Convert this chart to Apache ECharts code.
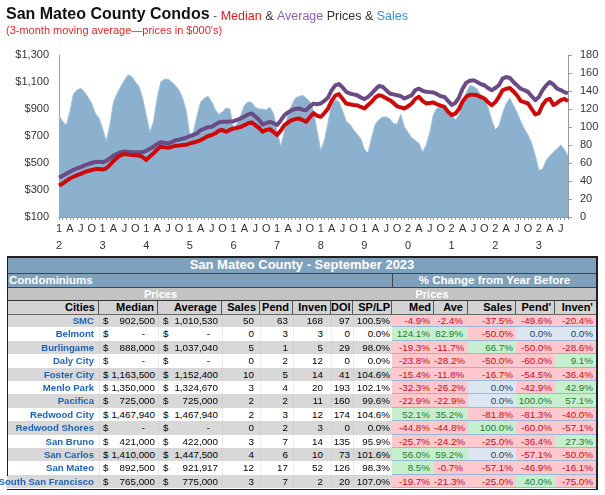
<!DOCTYPE html>
<html>
<head>
<meta charset="utf-8">
<script src="https://cdn.jsdelivr.net/npm/echarts@6/dist/echarts.min.js"></script>
<style>
body{margin:0;background:#fff;width:605px;height:495px;overflow:hidden;position:relative;font-family:"Liberation Sans",Arial,sans-serif}
#chart{position:absolute;left:0;top:0;width:605px;height:256px}
#tbl{position:absolute;left:0;top:0;width:605px;height:495px;pointer-events:none}
.c{position:absolute;box-sizing:border-box;white-space:nowrap}
.ln{position:absolute}
</style>
</head>
<body>
<div id="chart"></div>
<div id="tbl"></div>
<script>
// monthly series, Jan 2012 .. Sep 2023 (3-month moving averages)
var startYear = 2012
var quarterLetters = ['A', 'J', 'O']

var salesData = [113,106,102,117,137,141,143,139,133,126,115,110,
  98,84,102,128,137,145,152,158,156,150,145,132,
  113,94,106,132,150,153,153,150,146,141,132,118,
  90,95,113,128,132,134,128,119,114,117,121,120,
  98,104,113,124,128,127,122,120,120,119,122,115,
  95,78,95,115,124,132,134,135,132,128,118,95,
  74,85,105,125,130,128,118,106,103,97,92,87,
  75,71,88,103,108,111,111,109,104,103,114,100,
  94,88,85,82,72,80,94,114,121,122,120,117,
  113,108,113,125,138,146,145,142,135,130,122,108,
  97,101,115,126,132,124,116,106,98,91,82,68,
  52,53,63,68,72,76,80,75,68]

var medianData = [333,348,368,385,398,410,420,432,441,448,455,456,
  452,460,486,515,540,558,566,562,560,558,555,545,
  523,548,572,600,621,616,613,620,628,630,633,635,
  645,652,660,670,685,700,707,720,740,744,732,745,
  756,760,768,780,795,801,781,760,732,745,751,730,
  707,740,781,800,818,825,830,818,805,840,870,850,
  842,870,904,960,1000,1010,975,941,935,930,928,915,
  904,930,953,985,1002,995,980,965,945,920,912,904,
  920,941,975,990,960,941,945,948,935,925,916,880,
  855,865,900,955,990,1005,1005,1002,990,978,950,928,
  950,990,1039,1050,1056,1030,1000,960,950,941,900,860,
  870,930,965,975,930,945,965,975,958]

var averageData = [392,405,420,435,450,461,470,482,491,500,508,510,
  505,515,535,555,568,580,585,582,579,580,579,580,
  590,605,621,640,653,650,646,655,668,672,680,687,
  700,707,720,744,755,765,768,785,801,805,805,808,
  810,820,830,845,860,867,845,820,786,795,805,795,
  781,815,855,875,891,900,904,895,891,920,940,935,
  941,960,985,1040,1075,1085,1060,1027,1015,1008,1002,985,
  973,990,1015,1045,1070,1065,1040,1015,1008,1002,995,978,
  990,1002,1040,1051,1035,1027,1025,1022,1010,995,990,960,
  930,945,985,1050,1095,1110,1113,1100,1085,1076,1055,1039,
  1055,1076,1125,1137,1130,1100,1075,1050,1040,1027,995,965,
  990,1040,1075,1100,1080,1051,1040,1025,1015]

// table: San Mateo County - September 2023
var cities = ['SMC','Belmont','Burlingame','Daly City','Foster City','Menlo Park','Pacifica',
  'Redwood City','Redwood Shores','San Bruno','San Carlos','San Mateo','South San Francisco']
var medians = [902500,null,888000,null,1163500,1350000,725000,1467940,null,421000,1410000,892500,765000]
var averages = [1010530,null,1037040,null,1152400,1324670,725000,1467940,null,422000,1447500,921917,775000]
var sales = [50,0,5,0,10,3,2,2,0,3,4,12,3]
var pend = [63,3,1,2,5,4,2,3,2,7,6,17,7]
var inven = [168,3,5,12,14,20,11,12,3,14,10,52,2]
var doi = [97,0,29,0,41,193,160,174,0,135,73,126,20]
var spLp = [100.5,0.0,98.0,0.0,104.6,102.1,99.6,104.6,0.0,95.9,101.6,98.3,107.0]
var medChg = [-4.9,124.1,-19.3,-23.8,-15.4,-32.3,-22.9,52.1,-44.8,-25.7,56.0,8.5,-19.7]
var aveChg = [-2.4,82.9,-11.7,-28.2,-11.8,-26.2,-22.9,35.2,-44.8,-24.2,59.2,-0.7,-21.3]
var salesChg = [-37.5,-50.0,66.7,-50.0,-16.7,0.0,0.0,-81.8,100.0,-25.0,0.0,-57.1,-25.0]
var pendChg = [-49.6,0.0,-50.0,-60.0,-54.5,-42.9,100.0,-81.3,-60.0,-36.4,-57.1,-46.9,40.0]
var invenChg = [-20.4,0.0,-28.6,9.1,-36.4,42.9,57.1,-40.0,-57.1,27.3,-50.0,-16.1,-75.0]


function showChart(){
    var months = []
    for(let i=0;i<salesData.length;i++){
        let y = startYear + Math.floor(i/12)
        months.push(y + '-' + (i%12+1))
    }

    var small = {fontSize: 12.5, fontWeight: 'normal', fontFamily: 'Liberation Sans', lineHeight: 14, verticalAlign: 'bottom'}
    option = {
        animation: false,
        title: [
            {
                text: '{a|San Mateo County Condos}{g| - }{r|Median}{k| & }{p|Average}{k| Prices & }{s|Sales}',
                left: 6, top: 5, padding: 0,
                textStyle: {
                    rich: {
                        a: {fontSize: 16, fontWeight: 'bold', color: '#111', fontFamily: 'Liberation Sans', lineHeight: 18, verticalAlign: 'bottom'},
                        g: Object.assign({color: '#555'}, small),
                        r: Object.assign({color: '#d9191c'}, small),
                        k: Object.assign({color: '#333'}, small),
                        p: Object.assign({color: '#8a62b0'}, small),
                        s: Object.assign({color: '#3b8fd8'}, small)
                    }
                }
            },
            {
                text: "(3-month moving average\u2014prices in $000's)",
                left: 6, top: 25, padding: 0,
                textStyle: {fontSize: 11, fontWeight: 'normal', color: '#e2262b', fontFamily: 'Liberation Sans'}
            }
        ],
        grid: {left: 59, right: 37, top: 55, bottom: 39},
        xAxis: {
            type: 'category',
            data: months,
            boundaryGap: false,
            axisLine: {lineStyle: {color: '#9a9a9a'}},
            axisTick: {interval: 0, length: 3, lineStyle: {color: '#9a9a9a'}},
            axisLabel: {
                interval: function(i){ return i % 3 === 0 },
                formatter: function(v, i){
                    let m = i % 12
                    if(m === 0){
                        let yy = String(startYear + Math.floor(i/12)).slice(2)
                        return yy[0] + '\n' + yy[1]
                    }
                    return quarterLetters[m/3 - 1]
                },
                fontSize: 11, color: '#333', lineHeight: 17, margin: 3,
                fontFamily: 'Liberation Sans'
            }
        },
        yAxis: [
            {
                type: 'value', min: 100, max: 1300, interval: 100,
                axisLine: {show: true, lineStyle: {color: '#9a9a9a'}},
                axisTick: {show: false},
                splitLine: {show: false},
                axisLabel: {
                    formatter: function(v){ return (v - 100) % 200 === 0 ? '$' + v.toLocaleString('en-US') : '' },
                    fontSize: 11, color: '#333', margin: 10, fontFamily: 'Liberation Sans'
                }
            },
            {
                type: 'value', min: 0, max: 180, interval: 20, position: 'right',
                axisLine: {show: true, lineStyle: {color: '#9a9a9a'}},
                axisTick: {show: true, length: 4, lineStyle: {color: '#9a9a9a'}},
                splitLine: {show: false},
                axisLabel: {fontSize: 11, color: '#333', margin: 12, fontFamily: 'Liberation Sans'}
            }
        ],
        series: [
            {
                name: 'Sales', type: 'line', yAxisIndex: 1, data: salesData,
                showSymbol: false, z: 1,
                lineStyle: {width: 1, color: '#9fbfd9'},
                areaStyle: {color: '#8cb1ce', opacity: 1}
            },
            {
                name: 'Average', type: 'line', yAxisIndex: 0, data: averageData,
                showSymbol: false, z: 3,
                lineStyle: {width: 4, color: '#6a4b84', join: 'round'}
            },
            {
                name: 'Median', type: 'line', yAxisIndex: 0, data: medianData,
                showSymbol: false, z: 4,
                lineStyle: {width: 4, color: '#cc0a0a', join: 'round'}
            }
        ]
    };

    var myChart = echarts.init(document.getElementById('chart'));
    myChart.setOption(option);
}


// table helpers
var tbl = document.getElementById('tbl')

function cell(x0, x1, y0, h, text, o){
    o = o || {}
    var d = document.createElement('div')
    d.className = 'c'
    d.style.left = x0 + 'px'
    d.style.top = y0 + 'px'
    d.style.width = (x1 - x0) + 'px'
    d.style.height = h + 'px'
    d.style.lineHeight = h + 'px'
    d.style.textAlign = o.align || 'right'
    if(o.align === 'left') d.style.paddingLeft = (o.pad || 0) + 'px'
    else if(o.align !== 'center') d.style.paddingRight = (o.pad || 0) + 'px'
    if(o.bg) d.style.background = o.bg
    d.style.color = o.color || '#000'
    d.style.fontSize = (o.size || 9.8) + 'px'
    if(o.bold) d.style.fontWeight = 'bold'
    d.textContent = text
    tbl.appendChild(d)
    return d
}

function line(x, y, w, h, color){
    var d = document.createElement('div')
    d.className = 'ln'
    d.style.left = x + 'px'; d.style.top = y + 'px'
    d.style.width = w + 'px'; d.style.height = h + 'px'
    d.style.background = color
    tbl.appendChild(d)
}

function fmtPct(v){ return v.toFixed(1) + '%' }

function chgStyle(v){
    if(v > 0) return {bg: '#c6efce', color: '#1d7a35'}
    if(v < 0) return {bg: '#ffc7ce', color: '#c0101a'}
    return {bg: '#dce6f1', color: '#1f3f6e'}
}

function showTable(){
    var blue = '#7ea1bd'
    // title and group rows
    cell(7, 597, 257, 16, 'San Mateo County - September 2023', {bg: blue, color: '#fff', bold: true, size: 13, align: 'center'})
    cell(7, 392, 273, 14, 'Condominiums', {bg: blue, color: '#fff', bold: true, size: 11.5, align: 'left', pad: 2})
    cell(392, 597, 273, 14, '% Change from Year Before', {bg: blue, color: '#fff', bold: true, size: 11.5, align: 'center'})
    cell(7, 392, 287, 14, '', {bg: '#c3c3c3'})
    cell(392, 597, 287, 14, '', {bg: '#c3c3c3'})
    cell(99, 222, 287, 14, 'Prices', {color: '#fff', bold: true, size: 11, align: 'center'})
    cell(392, 472, 287, 14, 'Prices', {color: '#fff', bold: true, size: 11, align: 'center'})

    // header row
    var hy = 301, hh = 13
    var hdr = [
        [7, 99, 'Cities', 3], [99, 158, 'Median', 3], [158, 222, 'Average', 4],
        [222, 260, 'Sales', 3], [260, 293, 'Pend', 3], [293, 331, 'Inven', 3],
        [331, 353, 'DOI', 2], [353, 392, 'SP/LP', 1],
        [392, 434, 'Med', 2], [434, 468, 'Ave', 4], [468, 516, 'Sales', 3],
        [516, 555, "Pend'", 3], [555, 597, "Inven'", 3]
    ]
    for(let i=0;i<hdr.length;i++){
        let c = cell(hdr[i][0], hdr[i][1], hy, hh, hdr[i][2], {bg: '#d3d3d3', bold: true, size: 11, pad: hdr[i][3]})
        c.style.borderRight = '1px solid #555'
    }

    // data rows
    var y0 = 314, rh = 13.4
    for(let r=0;r<cities.length;r++){
        let y = y0 + r*rh
        let bg = r % 2 === 0 ? '#d8d8d8' : '#ffffff'
        cell(7, 99, y, rh, '', {bg: bg})
        cell(99, 392, y, rh, '', {bg: bg})
        // faint column lines in the left block
        for(let k of [99, 158, 222, 260, 293, 331, 353]){
            line(k, y, 1, rh, r % 2 === 0 ? '#cfcfcf' : '#ececec')
        }
        cell(-20, 99, y, rh, cities[r], {color: '#1f63b3', size: 9.6, bold: true, pad: 5})
        cell(99, 111, y, rh, '$', {align: 'left', pad: 4})
        cell(111, 158, y, rh, medians[r] === null ? '-' : medians[r].toLocaleString('en-US'), {pad: medians[r] === null ? 13 : 3})
        cell(158, 170, y, rh, '$', {align: 'left', pad: 5})
        cell(170, 222, y, rh, averages[r] === null ? '-' : averages[r].toLocaleString('en-US'), {pad: averages[r] === null ? 12 : 4})
        cell(222, 260, y, rh, sales[r], {pad: 6})
        cell(260, 293, y, rh, pend[r], {pad: 5})
        cell(293, 331, y, rh, inven[r], {pad: 8})
        cell(331, 353, y, rh, doi[r], {pad: 3})
        cell(353, 392, y, rh, fmtPct(spLp[r]), {pad: 2})

        let chg = [[392, 434, medChg[r], 4], [434, 468, aveChg[r], 5], [468, 516, salesChg[r], 3],
                   [516, 555, pendChg[r], 3], [555, 597, invenChg[r], 4]]
        for(let k=0;k<chg.length;k++){
            let s = chgStyle(chg[k][2])
            cell(chg[k][0], chg[k][1], y, rh, fmtPct(chg[k][2]), {bg: s.bg, color: s.color, pad: chg[k][3]})
        }
        // row separators in the change block
        line(392, Math.round(y + rh) - 1, 205, 1, '#9bb8da')
    }

    // heavy rules
    line(7, 256, 590, 1.5, '#222')
    line(7, 272.5, 590, 1, '#444')
    line(7, 286.5, 590, 1, '#444')
    line(7, 300, 590, 1.2, '#333')
    line(7, 313.5, 590, 1, '#666')
    line(391.5, 273, 1, 14, '#444')
    line(7, 488.5, 590, 1.5, '#222')
    line(6.5, 256, 1.5, 220, '#222')
    line(596, 256, 1.5, 234, '#222')
}

showChart()
showTable()
</script>
</body>
</html>
